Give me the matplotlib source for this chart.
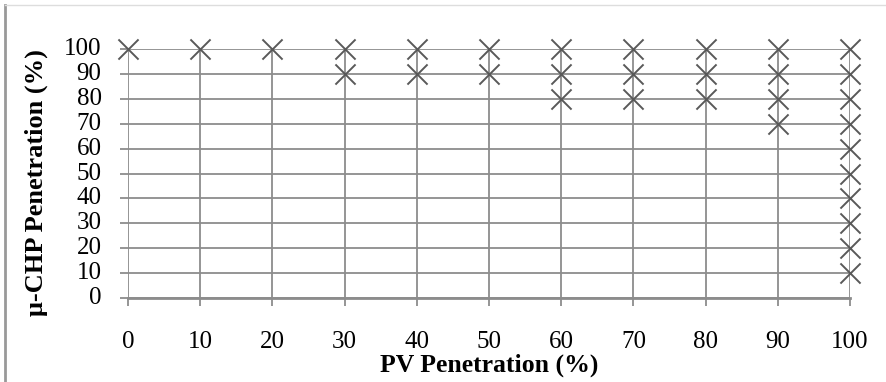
import matplotlib
matplotlib.use("Agg")
import matplotlib.pyplot as plt
from matplotlib.lines import Line2D

pv_values = [0, 10, 20, 30, 30, 40, 40, 50, 50, 60, 60, 60, 70, 70, 70,
             80, 80, 80, 90, 90, 90, 90,
             100, 100, 100, 100, 100, 100, 100, 100, 100, 100]
chp_values = [100, 100, 100, 100, 90, 100, 90, 100, 90, 100, 90, 80, 100, 90, 80,
              100, 90, 80, 100, 90, 80, 70,
              100, 90, 80, 70, 60, 50, 40, 30, 20, 10]
x_ticks = list(range(0, 101, 10))
y_ticks = list(range(0, 101, 10))

plt.rcParams['font.family'] = ['Liberation Serif', 'DejaVu Serif']

W, H = 886, 382
fig = plt.figure(figsize=(W / 100, H / 100), dpi=100)
ax = fig.add_axes([128 / W, 1 - 298 / H, (850 - 128) / W, (298 - 49) / H])

grid_col = '#8c8c8c'
ax.scatter(pv_values, chp_values, marker='x', s=210, color='#595959',
           linewidths=1.4, zorder=3, clip_on=False)
ax.set_xlim(0, 100)
ax.set_ylim(0, 100)
ax.set_xticks(x_ticks)
ax.set_yticks(y_ticks)
ax.grid(True, color=grid_col, linewidth=1.3, zorder=1)
for s in ax.spines.values():
    s.set_visible(False)
ax.axhline(0, color=grid_col, linewidth=2, zorder=2, clip_on=False)
ax.tick_params(axis='x', length=6, width=1.3, color=grid_col, pad=18, labelsize=18)
ax.tick_params(axis='y', length=6, width=1.3, color=grid_col, pad=13, labelsize=18)
for lbl in ax.get_yticklabels():
    lbl.set_verticalalignment('center')

fig.text(489 / W, 1 - 365 / H, 'PV Penetration (%)', ha='center', va='center',
         fontsize=18.5, fontweight='bold')
fig.text(36 / W, 1 - 183 / H, 'μ-CHP Penetration (%)', ha='center', va='center',
         rotation=90, fontsize=19, fontweight='bold')

# outer frame
fig.add_artist(Line2D([5 / W, 5 / W], [0, 1 - 5 / H], transform=fig.transFigure,
                      color='#999999', linewidth=2))
fig.add_artist(Line2D([5 / W, 1], [1 - 5 / H, 1 - 5 / H], transform=fig.transFigure,
                      color='#dddddd', linewidth=1))

fig.savefig('out.png', dpi=100)
